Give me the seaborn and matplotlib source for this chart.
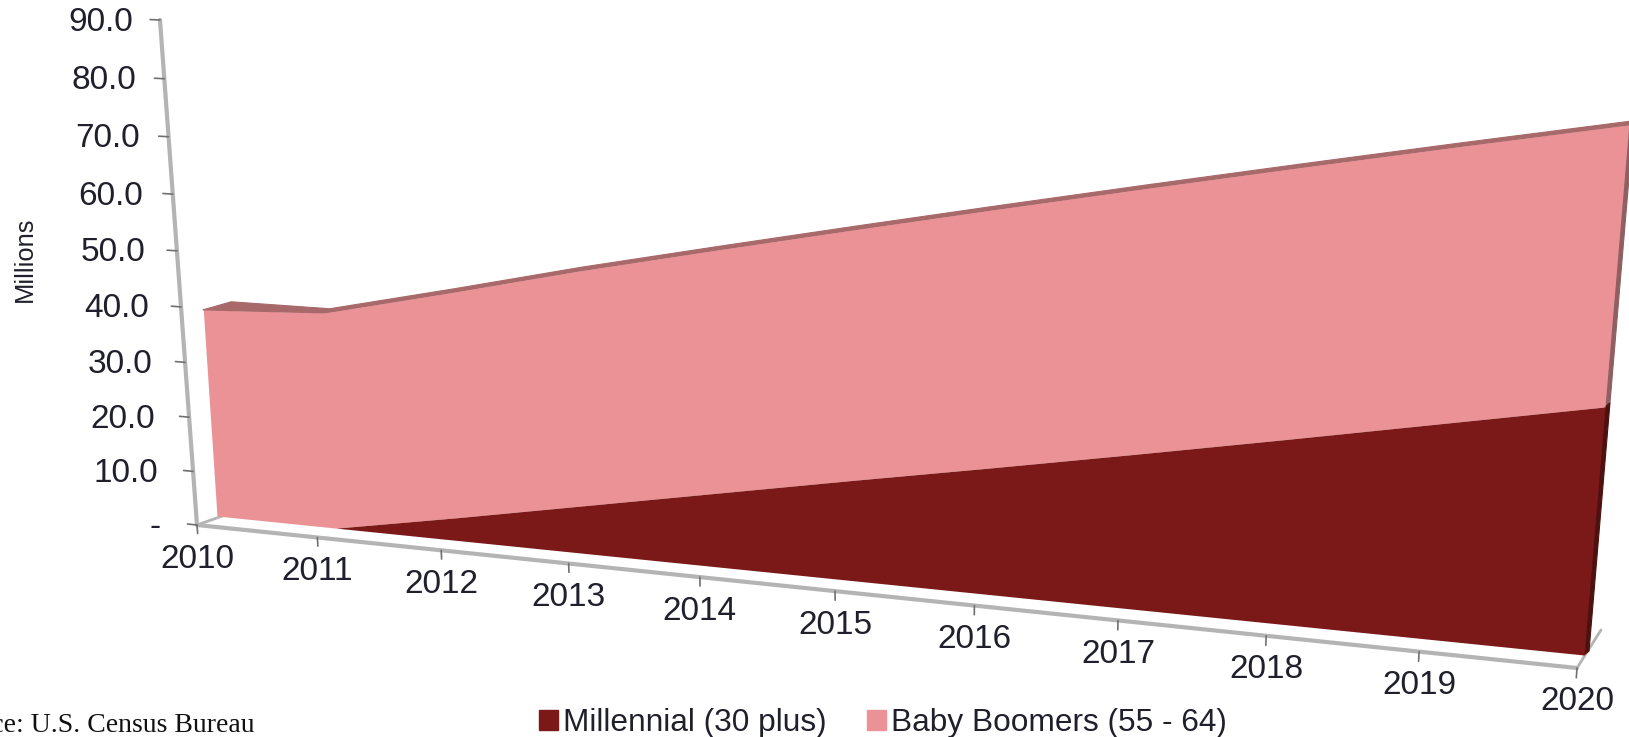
import numpy as np
import pandas as pd
import matplotlib
matplotlib.use("Agg")
import matplotlib.pyplot as plt
from matplotlib.patches import Patch
from matplotlib.transforms import Transform
import seaborn as sns

# ---------- data ----------
years = [2010, 2011, 2012, 2013, 2014, 2015, 2016, 2017, 2018, 2019, 2020]
millennial = [0.0, 0.0, 4.4, 9.0, 13.6, 18.2, 22.7, 27.3, 32.0, 36.8, 41.6]
boomers = [39.8, 41.0, 42.0, 43.0, 43.6, 44.1, 44.6, 44.9, 45.0, 44.9, 44.7]
y_ticks = [0, 10, 20, 30, 40, 50, 60, 70, 80, 90]
y_labels = ["-", "10.0", "20.0", "30.0", "40.0", "50.0", "60.0", "70.0", "80.0", "90.0"]
series_names = ["Millennial (30 plus)", "Baby Boomers (55 - 64)"]
source_text = "Source: U.S. Census Bureau"
y_title = "Millions"

DARK, LIGHT = "#7b1818", "#ea9295"
STRIP, DARK_SIDE, LIGHT_SIDE = "#a8696b", "#4d1210", "#8e6062"
AXIS_GREY, TICK_GREY, TEXT = "#b4b4b4", "#707070", "#20202c"
FONT = "Liberation Sans"
G, H = -0.14, -0.05


class Plane(Transform):
    """Perspective view of the (year, value) plane, in pixels of the picture."""
    input_dims = output_dims = 2
    has_inverse = False
    is_separable = False

    def __init__(self, p00, p10, p01):
        super().__init__()
        w10, w01 = 1 + G, 1 + H
        self.m = np.array([
            [p10[0] * w10 - p00[0], p01[0] * w01 - p00[0], p00[0]],
            [p10[1] * w10 - p00[1], p01[1] * w01 - p00[1], p00[1]],
        ])

    def transform_non_affine(self, pts):
        pts = np.asarray(pts, float)
        u, v = (pts[:, 0] - 2010) / 10, pts[:, 1] / 90
        w = 1 + G * u + H * v
        return np.column_stack([
            (self.m[0, 0] * u + self.m[0, 1] * v + self.m[0, 2]) / w,
            (self.m[1, 0] * u + self.m[1, 1] * v + self.m[1, 2]) / w,
        ])


sns.set_theme(style="white")
plt.rcParams["font.family"] = [FONT, "DejaVu Sans"]

fig = plt.figure(figsize=(16.29, 7.37), dpi=100, facecolor="white")
ax = fig.add_axes([0, 0, 1, 1])
ax.set_xlim(0, 1629)
ax.set_ylim(737, 0)
ax.autoscale(False)
ax.axis("off")

wall = Plane((197, 525), (1577, 668), (160, 20))
front = Plane((217, 516), (1584, 655), (185, 36))
back = Plane((245, 508), (1597, 642), (213, 28))     # deep corner at the 2010 end
thin = Plane((222, 512), (1589, 651), (190, 32))     # shallow depth along the run
t_wall, t_front = wall + ax.transData, front + ax.transData

x = np.array(years, float)
mil = np.array(millennial)
total = mil + np.array(boomers)


def pts(xs, ys):
    return np.column_stack([xs, ys])


# axis lines, floor edges and ticks
ax.plot([2010, 2010], [0, 90], color=AXIS_GREY, lw=3, transform=t_wall, zorder=1)
ax.plot([2010, 2020], [0, 0], color=AXIS_GREY, lw=3, transform=t_wall, zorder=1)
for y0 in (2010, 2020):
    a = wall.transform(pts([y0], [0]))[0]
    b = back.transform(pts([y0], [0]))[0] if y0 == 2010 else (1601, 630)
    ax.plot([a[0], b[0]], [a[1], b[1]], color=AXIS_GREY, lw=2, zorder=1)
for val, lab in zip(y_ticks, y_labels):
    ax.plot([2009.92, 2010], [val, val], color=TICK_GREY, lw=1.2, transform=t_wall, zorder=2)
    ax.annotate(lab, xy=(2010, val), xycoords=t_wall, xytext=(-36 + 0.10 * val, -2),
                textcoords="offset pixels", ha="right", va="center",
                fontsize=24, color=TEXT, family=FONT)
for yr in years:
    ax.plot([yr, yr], [-1.6, 0], color=TICK_GREY, lw=1.2, transform=t_wall, zorder=2)
    ax.annotate(str(yr), xy=(yr, 0), xycoords=t_wall, xytext=(0, -34),
                textcoords="offset pixels", ha="center", va="center",
                fontsize=24, color=TEXT, family=FONT)

# top face and right-hand side faces in depth
top_f = front.transform(pts(x, total))
top_b = thin.transform(pts(x, total))
top_b[0] = back.transform(pts(x[:1], total[:1]))[0]
ax.fill(*np.vstack([top_f, top_b[::-1]]).T, color=STRIP, lw=0.8, zorder=3)
for lo, hi, col in [(mil[-1], total[-1], LIGHT_SIDE), (0, mil[-1], DARK_SIDE)]:
    f = front.transform(pts([2020, 2020], [lo, hi]))
    b = thin.transform(pts([2020, 2020], [lo, hi]))
    ax.fill(*np.vstack([f, b[::-1]]).T, color=col, lw=0.8, zorder=3)

# the stacked areas
ax.fill_between(x, mil, total, color=LIGHT, lw=0, transform=t_front, zorder=4)
ax.fill_between(x, 0, mil, color=DARK, lw=0, transform=t_front, zorder=5)
frame = pd.DataFrame({"year": x, "total": total})
sns.lineplot(data=frame, x="year", y="total", ax=ax, color=STRIP, lw=1.0,
             transform=t_front, legend=False, zorder=6)
ax.set_xlim(0, 1629)
ax.set_ylim(737, 0)
ax.axis("off")

# texts
ax.text(25, 259, y_title, rotation=90, ha="center", va="center", fontsize=18.4,
        color=TEXT, family=FONT)
ax.text(255, 726, source_text, ha="right", va="center", fontsize=20,
        color="#111111", family="Liberation Serif", clip_on=False)
ax.legend(handles=[Patch(color=DARK, label=series_names[0]),
                   Patch(color=LIGHT, label=series_names[1])],
          ncol=2, frameon=False, loc="center", bbox_to_anchor=(883, 723),
          bbox_transform=ax.transData, prop={"family": FONT, "size": 22.8},
          handlelength=0.6, handleheight=0.6, handletextpad=0.16,
          columnspacing=1.27, labelcolor=TEXT, borderpad=0, borderaxespad=0)

fig.savefig("out.png", dpi=100, facecolor="white")
